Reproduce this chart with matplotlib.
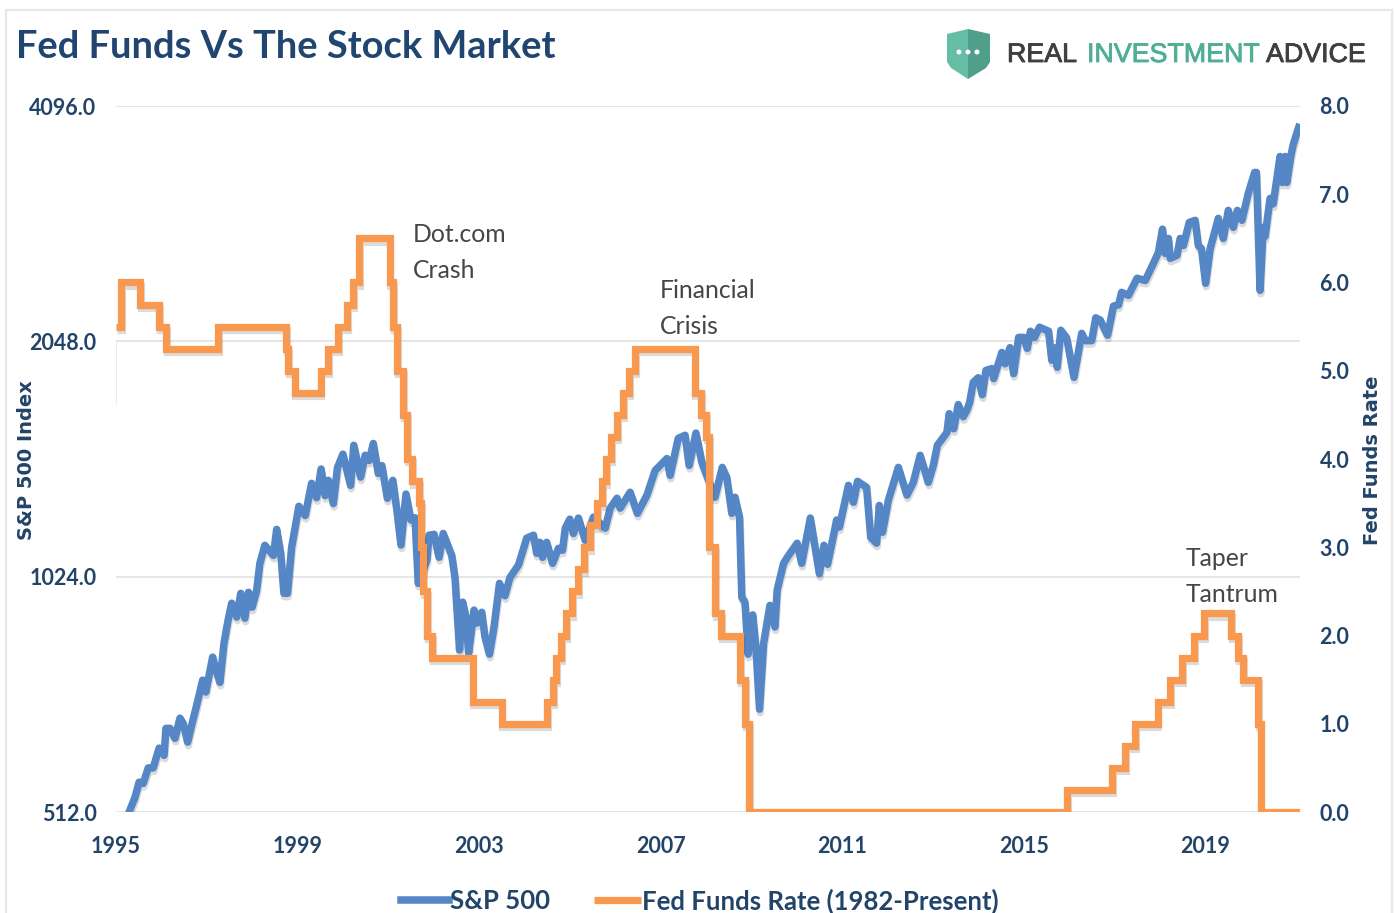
"""Fed Funds vs the stock market"""
import matplotlib
matplotlib.use('Agg')
import matplotlib.pyplot as plt
import matplotlib.patheffects as pe
from matplotlib.patches import Polygon, Rectangle, Ellipse
from matplotlib.ticker import FixedLocator, FuncFormatter

W, H = 1395, 913

# S&P 500
sp_dates = [1995.29, 1995.42, 1995.51, 1995.60, 1995.71, 1995.82, 1995.95, 1996.06, 1996.10, 1996.19,
            1996.30, 1996.41, 1996.48, 1996.58, 1996.67, 1996.78, 1996.91, 1996.98, 1997.13, 1997.22,
            1997.29, 1997.38, 1997.47, 1997.55, 1997.66, 1997.75, 1997.84, 1997.92, 1998.00, 1998.10,
            1998.17, 1998.28, 1998.47, 1998.54, 1998.63, 1998.70, 1998.78, 1998.87, 1998.95, 1999.03,
            1999.17, 1999.31, 1999.42, 1999.52, 1999.61, 1999.68, 1999.79, 1999.88, 2000.00, 2000.17,
            2000.24, 2000.39, 2000.49, 2000.58, 2000.67, 2000.78, 2000.86, 2000.98, 2001.10, 2001.19,
            2001.28, 2001.39, 2001.50, 2001.59, 2001.66, 2001.85, 2001.90, 2002.01, 2002.12, 2002.21,
            2002.40, 2002.47, 2002.57, 2002.64, 2002.71, 2002.77, 2002.89, 2002.96, 2003.06, 2003.13,
            2003.23, 2003.33, 2003.45, 2003.57, 2003.68, 2003.87, 2004.05, 2004.20, 2004.27, 2004.34,
            2004.40, 2004.49, 2004.62, 2004.75, 2004.84, 2004.90, 2005.00, 2005.08, 2005.19, 2005.34,
            2005.52, 2005.78, 2005.89, 2006.04, 2006.11, 2006.33, 2006.49, 2006.70, 2006.88, 2007.14,
            2007.21, 2007.39, 2007.54, 2007.63, 2007.78, 2007.91, 2008.20, 2008.36, 2008.46, 2008.57,
            2008.64, 2008.74, 2008.79, 2008.86, 2008.93, 2009.03, 2009.10, 2009.18, 2009.27, 2009.41,
            2009.52, 2009.57, 2009.71, 2009.82, 2010.01, 2010.11, 2010.30, 2010.50, 2010.60, 2010.68,
            2010.88, 2010.94, 2011.14, 2011.25, 2011.34, 2011.54, 2011.63, 2011.76, 2011.82, 2011.89,
            2012.02, 2012.24, 2012.43, 2012.57, 2012.72, 2012.90, 2013.01, 2013.10, 2013.31, 2013.36,
            2013.46, 2013.56, 2013.67, 2013.75, 2013.81, 2013.89, 2014.00, 2014.09, 2014.17, 2014.30,
            2014.34, 2014.52, 2014.59, 2014.70, 2014.78, 2014.89, 2015.00, 2015.08, 2015.15, 2015.24,
            2015.35, 2015.55, 2015.62, 2015.71, 2015.74, 2015.82, 2015.95, 2016.11, 2016.28, 2016.36,
            2016.50, 2016.59, 2016.69, 2016.85, 2016.98, 2017.09, 2017.16, 2017.31, 2017.50, 2017.68,
            2017.87, 2017.97, 2018.06, 2018.12, 2018.19, 2018.23, 2018.38, 2018.45, 2018.52, 2018.65,
            2018.78, 2018.85, 2018.92, 2019.01, 2019.11, 2019.29, 2019.40, 2019.51, 2019.62, 2019.71,
            2019.81, 2019.95, 2020.09, 2020.13, 2020.21, 2020.28, 2020.32, 2020.43, 2020.50, 2020.65,
            2020.70, 2020.76, 2020.80, 2020.89, 2020.94, 2021.06]
sp_values = [512, 535, 559, 557, 583, 583, 618, 605, 655, 655,
             636, 675, 665, 629, 662, 702, 755, 729, 808, 773,
             750, 842, 901, 947, 909, 975, 906, 978, 936, 984,
             1065, 1123, 1090, 1177, 1097, 975, 975, 1116, 1185, 1260,
             1226, 1348, 1292, 1406, 1300, 1360, 1270, 1412, 1469, 1340,
             1508, 1373, 1464, 1442, 1516, 1388, 1420, 1290, 1360, 1245,
             1124, 1306, 1210, 1218, 1004, 1075, 1157, 1160, 1084, 1163,
             1090, 1021, 825, 950, 910, 818, 928, 893, 922, 858,
             815, 883, 1004, 968, 1021, 1060, 1147, 1157, 1097, 1133,
             1084, 1133, 1065, 1113, 1107, 1181, 1213, 1163, 1217, 1140,
             1220, 1181, 1253, 1290, 1253, 1313, 1234, 1302, 1400, 1450,
             1380, 1539, 1553, 1421, 1563, 1434, 1294, 1413, 1371, 1234,
             1294, 1220, 964, 950, 815, 915, 833, 693, 841, 941,
             883, 985, 1065, 1090, 1130, 1065, 1217, 1033, 1123, 1062,
             1210, 1185, 1340, 1275, 1356, 1332, 1150, 1130, 1263, 1167,
             1283, 1413, 1302, 1352, 1464, 1352, 1421, 1508, 1566, 1655,
             1583, 1700, 1640, 1672, 1711, 1815, 1840, 1750, 1880, 1890,
             1835, 1982, 1917, 2010, 1862, 2072, 2072, 2006, 2110, 2072,
             2135, 2110, 1937, 2010, 1897, 2116, 2068, 1842, 2097, 2052,
             2052, 2195, 2180, 2085, 2272, 2280, 2366, 2345, 2466, 2450,
             2584, 2661, 2850, 2653, 2773, 2615, 2638, 2773, 2716, 2907,
             2925, 2716, 2690, 2430, 2690, 2942, 2773, 3012, 2865, 3012,
             2925, 3165, 3368, 3368, 2380, 2865, 2790, 3120, 3070, 3530,
             3270, 3530, 3270, 3540, 3655, 3845]

# Fed funds rate, one entry per change
ff_dates = [1995.00, 1995.11, 1995.53, 1995.95, 1996.11, 1997.25, 1998.75, 1998.79, 1998.94, 1999.51,
            1999.67, 1999.89, 2000.09, 2000.22, 2000.36, 2001.03, 2001.10, 2001.20, 2001.33, 2001.41,
            2001.53, 2001.68, 2001.73, 2001.77, 2001.85, 2001.96, 2002.86, 2003.50, 2004.50, 2004.63,
            2004.70, 2004.81, 2004.92, 2005.05, 2005.18, 2005.31, 2005.45, 2005.60, 2005.71, 2005.80,
            2005.91, 2006.04, 2006.17, 2006.31, 2006.44, 2007.75, 2007.89, 2008.00, 2008.07, 2008.21,
            2008.34, 2008.76, 2008.86, 2008.95, 2015.96, 2016.95, 2017.24, 2017.46, 2017.95, 2018.23,
            2018.49, 2018.76, 2018.98, 2019.57, 2019.73, 2019.84, 2020.17, 2020.22, 2021.09]
ff_rates = [5.5, 6.0, 5.75, 5.5, 5.25, 5.5, 5.25, 5.0, 4.75, 5.0,
            5.25, 5.5, 5.75, 6.0, 6.5, 6.0, 5.5, 5.0, 4.5, 4.0,
            3.75, 3.5, 3.0, 2.5, 2.0, 1.75, 1.25, 1.0, 1.25, 1.5,
            1.75, 2.0, 2.25, 2.5, 2.75, 3.0, 3.25, 3.5, 3.75, 4.0,
            4.25, 4.5, 4.75, 5.0, 5.25, 4.75, 4.5, 4.25, 3.0, 2.25,
            2.0, 1.5, 1.0, 0.0, 0.25, 0.5, 0.75, 1.0, 1.25, 1.5,
            1.75, 2.0, 2.25, 2.0, 1.75, 1.5, 1.0, 0.0, 0.0]

year_ticks = [1995, 1999, 2003, 2007, 2011, 2015, 2019]
sp_ticks = [512, 1024, 2048, 4096]
ff_ticks = [0, 1, 2, 3, 4, 5, 6, 7, 8]

BLUE = '#5587c6'
ORANGE = '#f8994f'
NAVY = '#234469'
GREY = '#454545'
GRID = '#e4e4e4'
FONT = 'Lato'


def fx(px):
    return px / W


def fy(py):
    return 1 - py / H


shadow = [pe.SimpleLineShadow(offset=(0.5, -2.5), alpha=0.14, shadow_color='black'), pe.Normal()]

fig = plt.figure(figsize=(W / 100, H / 100), dpi=100, facecolor='white')
fig.add_artist(Rectangle((fx(6), fy(930)), fx(1386), fy(10) - fy(930), transform=fig.transFigure,
                         fill=False, edgecolor='#e8e8e8', linewidth=1.6))

ax = fig.add_axes([fx(116), fy(812), fx(1300 - 116), fy(106) - fy(812)])
ax.set_yscale('log', base=2)
ax.set_xlim(1995, 2021.09)
ax.set_ylim(512, 4096)
line_sp, = ax.plot(sp_dates, sp_values, color=BLUE, linewidth=5.4, solid_joinstyle='round',
                   path_effects=shadow, label='S&P 500', zorder=3)
ax.yaxis.set_major_locator(FixedLocator(sp_ticks))
ax.yaxis.set_minor_locator(FixedLocator([]))
ax.yaxis.set_major_formatter(FuncFormatter(lambda v, _: f'{v:.1f}'))
ax.set_xticks(year_ticks)
ax.set_xticklabels([str(y) for y in year_ticks])
ax.grid(axis='y', color=GRID, linewidth=1.3)
ax.set_axisbelow(True)
ax.tick_params(length=0, labelcolor=NAVY, labelsize=15.5)
ax.tick_params(axis='x', pad=17)
ax.tick_params(axis='y', pad=14)
for lab in ax.get_xticklabels() + ax.get_yticklabels():
    lab.set_fontfamily(FONT)
    lab.set_fontweight('bold')
for s in ax.spines.values():
    s.set_visible(False)
# faint stub of the old axis line under 2048
ax.vlines(1995, 1700, 2048, color='#e8e8e8', linewidth=1.2)

ax2 = ax.twinx()
ax2.set_ylim(0, 8)
line_ff, = ax2.step(ff_dates, ff_rates, where='post', color=ORANGE, linewidth=5.2,
                    solid_joinstyle='miter', solid_capstyle='butt', path_effects=shadow,
                    label='Fed Funds Rate (1982-Present)', zorder=4)
ax2.set_yticks(ff_ticks)
ax2.yaxis.set_major_formatter(FuncFormatter(lambda v, _: f'{v:.1f}'))
ax2.tick_params(length=0, labelcolor=NAVY, labelsize=15.5, pad=14)
for lab in ax2.get_yticklabels():
    lab.set_fontfamily(FONT)
    lab.set_fontweight('bold')
for s in ax2.spines.values():
    s.set_visible(False)

fig.text(fx(16), fy(47), 'Fed Funds Vs The Stock Market', family=FONT, weight='bold', fontsize=27.4,
         color='#1f4570', va='center', ha='left')
fig.text(fx(26), fy(460), 'S&P 500 Index', family='DejaVu Sans', weight='bold', fontsize=14,
         color=NAVY, rotation=90, va='center', ha='center')
fig.text(fx(1373), fy(460), 'Fed Funds Rate', family='DejaVu Sans', weight='bold', fontsize=14,
         color=NAVY, rotation=90, va='center', ha='center')

for px, py, txt in [(413, 234, 'Dot.com'), (413, 270, 'Crash'),
                    (660, 290, 'Financial'), (660, 326, 'Crisis'),
                    (1186, 558, 'Taper'), (1186, 594, 'Tantrum')]:
    fig.text(fx(px), fy(py), txt, family=FONT, fontsize=17.8, color=GREY, va='center', ha='left')

# logo
shield_left = [(968, 29), (947, 34), (947, 62), (951, 68), (968, 79)]
shield_right = [(968, 29), (990, 34), (990, 62), (986, 68), (968, 79)]
for pts, col in [(shield_left, '#66bda5'), (shield_right, '#4f9f8b')]:
    fig.add_artist(Polygon([(fx(x), fy(y)) for x, y in pts], closed=True, transform=fig.transFigure,
                           facecolor=col, edgecolor='none'))
for px in [959, 968, 977]:
    fig.add_artist(Ellipse((fx(px), fy(52)), 5 / W, 5 / H, transform=fig.transFigure, facecolor='white',
                           edgecolor='none'))
for px, txt, col in [(1007, 'REAL', '#3f3f3f'), (1087, 'INVESTMENT', '#4fae95'), (1266, 'ADVICE', '#3f3f3f')]:
    fig.text(fx(px), fy(55), txt, family='Liberation Sans', fontsize=19.3, color=col, va='center', ha='left',
             path_effects=[pe.withStroke(linewidth=0.6, foreground=col)])

leg = fig.legend(handles=[line_sp, line_ff], loc='center', bbox_to_anchor=(fx(700), fy(901)), ncol=2,
                 frameon=False, handlelength=1.85, handletextpad=0.05, columnspacing=1.7,
                 prop={'family': FONT, 'weight': 'bold', 'size': 18.5})
for t in leg.get_texts():
    t.set_color(NAVY)
for h in leg.legend_handles:
    h.set_path_effects([])

fig.savefig('out.png', dpi=100)
plt.close(fig)
